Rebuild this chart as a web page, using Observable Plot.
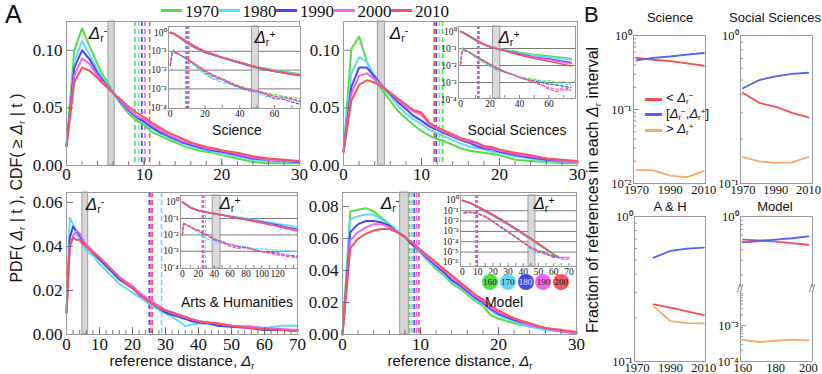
<!DOCTYPE html>
<html><head><meta charset="utf-8">
<script src="https://cdn.jsdelivr.net/npm/d3@7"></script>
<script src="https://cdn.jsdelivr.net/npm/@observablehq/plot@0.6"></script>
<style>
body{margin:0;background:#fff;}
#root{position:relative;width:822px;height:374px;overflow:hidden;background:#fff;font-family:"Liberation Sans",Arial,sans-serif;color:#111;}
#root svg text{font-family:"Liberation Serif","Times New Roman",serif;}
.lbl{position:absolute;white-space:nowrap;line-height:1;}
.lbl sub{font-size:0.62em;vertical-align:-0.25em;}
.lbl sup{font-size:0.62em;vertical-align:0.55em;}
.serif{font-family:"Liberation Serif","Times New Roman",serif;}
</style>
</head><body><div id="root"></div><script>
// ---------------- DATA ----------------
const years = ["1970","1980","1990","2000","2010"];
const yearColors = ["#52de46","#64d8f8","#4a46ee","#f262f2","#f4545e"];
const modelKeys = ["160","170","180","190","200"];

// Science main PDF
const sciX = [0,1,2,3,4,5,6,7,8,9,10,11,12,13,14,15,16,17,18,19,20,22,24,26,28,30];
const sci1970 = [0.017,0.100,0.119,0.103,0.088,0.075,0.064,0.053,0.045,0.039,0.035,0.029,0.026,0.023,0.020,0.017,0.015,0.013,0.012,0.011,0.009,0.006,0.003,0.002,0.002,0.002];
const sci1980 = [0.017,0.090,0.108,0.096,0.083,0.072,0.063,0.054,0.047,0.041,0.037,0.032,0.028,0.025,0.022,0.019,0.017,0.015,0.013,0.012,0.011,0.008,0.005,0.004,0.003,0.003];
const sci1990 = [0.017,0.085,0.100,0.092,0.080,0.071,0.063,0.055,0.048,0.042,0.038,0.033,0.029,0.026,0.023,0.020,0.018,0.016,0.014,0.013,0.012,0.009,0.006,0.005,0.004,0.003];
const sci2000 = [0.017,0.078,0.093,0.088,0.078,0.070,0.063,0.056,0.049,0.043,0.040,0.035,0.031,0.027,0.024,0.021,0.019,0.017,0.015,0.014,0.013,0.010,0.007,0.005,0.004,0.004];
const sci2010 = [0.017,0.072,0.085,0.082,0.076,0.069,0.063,0.057,0.051,0.046,0.042,0.037,0.033,0.029,0.026,0.023,0.020,0.018,0.016,0.015,0.013,0.011,0.008,0.006,0.005,0.004];
const sciMean = [8.8,9.3,9.7,10.1,10.7];
const sciBand = [5.4,6.2];

// Social Sciences main PDF
const ssX = sciX;
const ss1970 = [0.012,0.101,0.112,0.090,0.075,0.065,0.056,0.047,0.041,0.035,0.030,0.026,0.023,0.021,0.018,0.015,0.013,0.012,0.011,0.010,0.009,0.005,0.004,0.003,0.002,0.002];
const ss1980 = [0.012,0.080,0.094,0.090,0.078,0.068,0.060,0.052,0.045,0.040,0.036,0.031,0.028,0.025,0.022,0.019,0.017,0.015,0.014,0.012,0.011,0.008,0.006,0.004,0.003,0.003];
const ss1990 = [0.012,0.068,0.085,0.085,0.077,0.069,0.062,0.055,0.049,0.043,0.039,0.034,0.031,0.028,0.025,0.022,0.020,0.017,0.015,0.014,0.012,0.009,0.007,0.005,0.004,0.003];
const ss2000 = [0.012,0.062,0.078,0.080,0.075,0.069,0.063,0.057,0.051,0.047,0.044,0.036,0.032,0.029,0.026,0.023,0.021,0.019,0.016,0.015,0.013,0.010,0.008,0.006,0.004,0.003];
const ss2010 = [0.012,0.056,0.070,0.074,0.072,0.068,0.063,0.058,0.053,0.048,0.046,0.037,0.033,0.030,0.027,0.024,0.022,0.020,0.017,0.016,0.014,0.011,0.009,0.006,0.005,0.004];
const ssMean = [12.7,12.3,11.9,11.6,11.7];
const ssBand = [4.4,5.3];

// Arts & Humanities main PDF (no 1970)
const ahX = [0,1,2,3,4,5,6,8,10,12,14,16,18,20,22,24,26,28,30,32,34,36,38,40,43,46,50,55,60,65,70];
const ah1980 = [0.010,0.053,0.050,0.046,0.043,0.040,0.038,0.036,0.032,0.029,0.026,0.023,0.021,0.019,0.017,0.015,0.013,0.011,0.0095,0.008,0.006,0.0038,0.0045,0.005,0.005,0.004,0.0035,0.004,0.003,0.004,0.004];
const ah1990 = [0.010,0.044,0.049,0.047,0.045,0.042,0.040,0.037,0.034,0.031,0.028,0.025,0.023,0.021,0.019,0.016,0.014,0.012,0.010,0.009,0.008,0.007,0.006,0.0055,0.005,0.004,0.0035,0.003,0.002,0.002,0.002];
const ah2000 = [0.010,0.040,0.045,0.047,0.046,0.043,0.041,0.038,0.035,0.032,0.029,0.026,0.024,0.022,0.019,0.017,0.015,0.013,0.011,0.010,0.009,0.008,0.007,0.006,0.0055,0.005,0.004,0.0035,0.003,0.0025,0.002];
const ah2010 = [0.010,0.040,0.044,0.043,0.043,0.041,0.040,0.037,0.035,0.032,0.029,0.026,0.023,0.021,0.018,0.016,0.014,0.012,0.011,0.010,0.009,0.008,0.007,0.006,0.0055,0.005,0.004,0.003,0.0025,0.002,0.0015];
const ahMean = [28.8,25.1,25.6,26.0];
const ahBand = [4.8,6.6];

// Model main PDF
const mX = sciX;
const m160 = [0,0.077,0.078,0.079,0.077,0.073,0.069,0.065,0.061,0.056,0.051,0.046,0.041,0.037,0.032,0.029,0.025,0.021,0.018,0.012,0.010,0.007,0.005,0.003,0.002,0.001];
const m170 = [0,0.072,0.074,0.075,0.075,0.072,0.068,0.065,0.061,0.056,0.051,0.046,0.042,0.038,0.033,0.030,0.026,0.022,0.019,0.015,0.012,0.008,0.005,0.003,0.002,0.001];
const m180 = [0,0.064,0.069,0.071,0.071,0.070,0.068,0.064,0.061,0.056,0.052,0.047,0.043,0.039,0.034,0.031,0.027,0.023,0.020,0.016,0.013,0.009,0.006,0.004,0.002,0.001];
const m190 = [0,0.059,0.064,0.067,0.069,0.069,0.067,0.064,0.061,0.057,0.052,0.048,0.044,0.040,0.036,0.032,0.028,0.024,0.021,0.017,0.014,0.010,0.006,0.004,0.002,0.001];
const m200 = [0,0.054,0.060,0.063,0.065,0.066,0.066,0.064,0.061,0.057,0.053,0.049,0.045,0.041,0.037,0.033,0.029,0.025,0.022,0.018,0.015,0.010,0.007,0.004,0.003,0.0015];
const mMean = [8.6,8.9,9.2,9.5,9.8];
const mBand = [7.4,8.5];

// Insets: CDF (solid) and PDF (dashed), log scale
const sciCdfX = [0,2,5,10,15,20,30,40,50,60,75];
const sciCdf1970 = [1,0.86,0.55,0.26,0.14,0.085,0.045,0.026,0.015,0.010,0.0062];
const sciCdf1980 = [1,0.87,0.57,0.27,0.145,0.088,0.045,0.025,0.014,0.0092,0.0056];
const sciCdf1990 = [1,0.88,0.58,0.28,0.15,0.09,0.045,0.024,0.013,0.0085,0.005];
const sciCdf2000 = [1,0.89,0.60,0.30,0.16,0.095,0.047,0.025,0.0135,0.0088,0.0052];
const sciCdf2010 = [1,0.90,0.62,0.32,0.17,0.10,0.049,0.026,0.014,0.009,0.0052];
const sciPdfX = [0,1,2,5,10,15,20,25,30,35,40,45,50,55,60,65,70,75];
const sciPdf1970 = [0.017,0.10,0.119,0.075,0.032,0.015,0.006,0.0032,0.0035,0.002,0.0012,0.0009,0.0008,0.0006,0.0005,0.0004,0.00035,0.0003];
const sciPdf1980 = [0.017,0.09,0.108,0.072,0.034,0.017,0.007,0.0035,0.0022,0.0018,0.0009,0.001,0.0006,0.0004,0.00035,0.0004,0.00025,0.0002];
const sciPdf1990 = [0.017,0.085,0.10,0.071,0.036,0.018,0.008,0.0045,0.003,0.0018,0.0012,0.0008,0.0007,0.0005,0.0003,0.00028,0.0002,0.00015];
const sciPdf2000 = [0.017,0.078,0.093,0.070,0.038,0.019,0.009,0.005,0.0032,0.002,0.0013,0.0009,0.0007,0.0005,0.0004,0.0003,0.00028,0.0002];
const sciPdf2010 = [0.017,0.072,0.085,0.069,0.040,0.020,0.0095,0.0055,0.0035,0.0021,0.0014,0.001,0.0008,0.0006,0.0004,0.00035,0.0003,0.00022];
const sciPlus = [47,51];

const ssCdfX = [0,2,5,10,15,20,25,30,40,50,60,75];
const ssCdf1970 = [1,0.82,0.55,0.30,0.18,0.13,0.10,0.085,0.060,0.045,0.036,0.026];
const ssCdf1980 = [1,0.84,0.57,0.31,0.18,0.125,0.098,0.080,0.055,0.040,0.031,0.022];
const ssCdf1990 = [1,0.85,0.58,0.32,0.19,0.125,0.095,0.075,0.048,0.032,0.024,0.015];
const ssCdf2000 = [1,0.86,0.60,0.33,0.19,0.125,0.095,0.073,0.045,0.030,0.022,0.013];
const ssCdf2010 = [1,0.87,0.62,0.34,0.20,0.13,0.095,0.070,0.042,0.026,0.018,0.0095];
const ssPdfX = [0,1,2,5,10,15,20,25,30,35,40,45,50,55,60,65,70,75];
const ssPdf1970 = [0.012,0.10,0.11,0.065,0.03,0.016,0.009,0.005,0.004,0.003,0.0022,0.0018,0.0016,0.0012,0.0013,0.001,0.0011,0.0009];
const ssPdf1980 = [0.012,0.08,0.095,0.068,0.033,0.018,0.01,0.006,0.004,0.003,0.002,0.0016,0.0014,0.0011,0.0009,0.0008,0.0008,0.0007];
const ssPdf1990 = [0.012,0.07,0.085,0.068,0.035,0.02,0.011,0.0065,0.0042,0.003,0.002,0.0015,0.0012,0.001,0.0008,0.0007,0.0006,0.0005];
const ssPdf2000 = [0.012,0.065,0.08,0.068,0.037,0.021,0.012,0.007,0.0045,0.003,0.002,0.0015,0.0011,0.0008,0.0005,0.0004,0.0005,0.0004];
const ssPdf2010 = [0.012,0.058,0.072,0.066,0.038,0.022,0.012,0.007,0.0045,0.003,0.002,0.0014,0.001,0.0007,0.0004,0.0003,0.0004,0.00035];
const ssPlus = [22,27];

const ahCdfX = [0,10,20,30,40,50,60,70,80,90,100,110,120,130,145];
const ahCdf1980 = [1,0.48,0.32,0.25,0.21,0.17,0.14,0.12,0.10,0.085,0.07,0.058,0.048,0.04,0.03];
const ahCdf1990 = [1,0.45,0.30,0.24,0.20,0.16,0.13,0.11,0.09,0.075,0.06,0.05,0.04,0.03,0.022];
const ahCdf2000 = [1,0.45,0.30,0.24,0.20,0.16,0.13,0.105,0.085,0.07,0.055,0.045,0.035,0.027,0.019];
const ahCdf2010 = [1,0.45,0.30,0.24,0.195,0.155,0.125,0.10,0.082,0.066,0.052,0.042,0.033,0.025,0.017];
const ahPdfX = [0,1,3,6,10,15,20,25,30,40,50,60,70,80,90,100,110,120,130,145];
const ahPdf1980 = [0.01,0.053,0.046,0.035,0.028,0.02,0.012,0.008,0.006,0.004,0.003,0.0028,0.0022,0.0019,0.0015,0.0014,0.0013,0.0012,0.0011,0.001];
const ahPdf1990 = [0.01,0.044,0.048,0.038,0.031,0.022,0.018,0.012,0.01,0.005,0.004,0.0025,0.002,0.0017,0.0013,0.001,0.0009,0.0008,0.0006,0.0005];
const ahPdf2000 = [0.01,0.04,0.046,0.039,0.032,0.023,0.019,0.013,0.011,0.0055,0.0035,0.0025,0.0018,0.0016,0.0012,0.001,0.0008,0.0007,0.0006,0.00045];
const ahPdf2010 = [0.01,0.04,0.044,0.038,0.032,0.024,0.02,0.013,0.011,0.006,0.0035,0.002,0.0015,0.0018,0.0013,0.0009,0.0008,0.0006,0.0005,0.0004];
const ahPlus = [38,48];

const mCdfX = [0,5,10,15,20,25,30,35,40,45,50,55,60,63,70];
const mCdf160 = [1,0.55,0.22,0.085,0.033,0.012,0.0045,0.0016,0.0005,0.00017,0.00005,0.000018,0.000006,0.000004,null];
const mCdf170 = [1,0.56,0.23,0.09,0.035,0.013,0.0048,0.0017,0.00055,0.00018,0.000055,0.00002,0.000006,0.000003,null];
const mCdf180 = [1,0.57,0.24,0.095,0.037,0.014,0.005,0.0018,0.0006,0.0002,0.00006,0.00002,0.000006,0.000003,null];
const mCdf190 = [1,0.58,0.25,0.10,0.039,0.015,0.0053,0.0019,0.00063,0.0002,0.00006,0.00002,0.000005,0.000003,0.000003];
const mCdf200 = [1,0.60,0.26,0.105,0.041,0.016,0.0056,0.002,0.00065,0.00021,0.000065,0.00002,0.000006,0.000003,null];
const mPdfX = [0,1,2,3,5,8,10,15,20,25,30,35,40,45,48,50,52,55,58,60,63,66,70];
const mPdf160 = [null,0.075,0.078,0.079,0.073,0.06,0.05,0.025,0.008,0.0025,0.0008,0.00025,0.00008,0.000025,0.000018,0.000012,0.000015,0.000008,0.00001,0.000005,0.000004,null,null];
const mPdf170 = [null,0.072,0.074,0.075,0.072,0.06,0.05,0.026,0.0085,0.0027,0.00085,0.00026,0.00008,0.00002,0.000012,0.000015,0.000008,0.000006,0.000005,0.000004,0.000003,null,null];
const mPdf180 = [null,0.064,0.069,0.071,0.07,0.06,0.051,0.027,0.009,0.0028,0.0009,0.00028,0.000085,0.000025,0.000015,0.00001,0.000012,0.000007,0.000005,0.000004,0.000003,null,null];
const mPdf190 = [null,0.059,0.064,0.067,0.069,0.061,0.052,0.028,0.0095,0.003,0.00095,0.0003,0.00009,0.000028,0.000016,0.000012,0.000008,0.000006,0.000004,0.000003,0.000003,0.000003,0.000003];
const mPdf200 = [null,0.054,0.06,0.063,0.066,0.061,0.053,0.029,0.01,0.0032,0.001,0.00031,0.00009,0.00003,0.00002,0.000012,0.000009,0.000007,0.000004,0.000003,0.000003,0.000002,0.000002];
const mPlus = [43.4,48];

// Panel B: fraction of references in each interval
const bYears = [1970,1980,1990,2000,2010];
const bSciLower = [0.50,0.47,0.45,0.42,0.39];
const bSciMid = [0.46,0.50,0.52,0.55,0.58];
const bSciUpper = [0.0153,0.015,0.0128,0.0122,0.0147];
const bSsLower = [0.41,0.35,0.33,0.30,0.28];
const bSsMid = [0.44,0.50,0.53,0.55,0.56];
const bSsUpper = [0.151,0.141,0.138,0.139,0.151];
const bAhYears = [1980,1990,2000,2010];
const bAhLower = [0.248,0.235,0.222,0.209];
const bAhMid = [0.52,0.58,0.60,0.61];
const bAhUpper = [0.24,0.19,0.184,0.183];
const bModelT = [160,170,180,190,200];
const bModelLower = [0.53,0.52,0.50,0.48,0.46];
const bModelMid = [0.49,0.51,0.53,0.55,0.58];
const bModelUpper = [0.0004,0.00035,0.00038,0.00041,0.00039];
const intervalKeys = ["lower","mid","upper"];
const intervalColors = ["#f24f50","#5262f0","#f8a963"];

// ---------------- HELPERS ----------------
const root = document.getElementById("root");
function place(el, left, top){ el.style.position="absolute"; el.style.left=left+"px"; el.style.top=top+"px"; root.appendChild(el); }
function table(xs, keys, cols){
  const out=[];
  keys.forEach((k,i)=>xs.forEach((x,j)=>{ const v=cols[i][j]; out.push({x, y:(v==null?NaN:v), k}); }));
  return out;
}
const supMap={"-":"⁻","0":"⁰","1":"¹","2":"²","3":"³","4":"⁴","5":"⁵","6":"⁶","7":"⁷"};
const pow10 = d => "10" + String(Math.round(Math.log10(d))).split("").map(c=>supMap[c]).join("");
function label(html, x, y, css={}, tf="translate(-50%,-50%)"){
  const d=document.createElement("div"); d.className="lbl"; d.innerHTML=html;
  d.style.left=x+"px"; d.style.top=y+"px"; d.style.transform=tf;
  Object.assign(d.style, css); root.appendChild(d); return d;
}
const dr = s => `<i>Δ</i><sub>r</sub>` + (s ? `<sup>${s}</sup>` : "");

function mainPanel(p){
  const m={l:46,r:8,t:4,b:26};
  const svg = Plot.plot({
    width:p.w+m.l+m.r, height:p.h+m.t+m.b,
    marginLeft:m.l, marginRight:m.r, marginTop:m.t, marginBottom:m.b,
    style:{background:"transparent", fontFamily:"'Liberation Serif', serif", fontSize:"17px", color:"#111", overflow:"visible"},
    x:{domain:p.xd, ticks:p.xt, tickSize:0, tickPadding:p.tp, tickFormat:d=>String(d), label:null},
    y:{domain:p.yd, ticks:p.yt, tickSize:0, tickPadding:4, tickFormat:d3.format(".2f"), label:null},
    color:{type:"ordinal", domain:p.keys, range:p.colors},
    marks:[
      Plot.rect([p.band], {x1:d=>d[0], x2:d=>d[1], fill:"#d6d6d6", stroke:"#8a8a8a", strokeWidth:0.8}),
      Plot.ruleX(p.keys.map((k,i)=>({k, v:p.means[i]})), {x:"v", stroke:"k", strokeDasharray:"5,3", strokeWidth:1.6}),
      Plot.line(p.data, {x:"x", y:"y", stroke:"k", strokeWidth:2}),
      Plot.tickX(p.xminor, {x:d=>d, insetTop:p.h-4, stroke:"#555", strokeWidth:0.8}),
      Plot.tickX(p.xt, {x:d=>d, insetTop:p.h-7, stroke:"#555", strokeWidth:0.8}),
      Plot.tickY(p.yt, {y:d=>d, insetRight:p.w-7, stroke:"#555", strokeWidth:0.8}),
      Plot.frame({stroke:"#9a9a9a"})
    ]
  });
  place(svg, p.l-m.l, p.t-m.t);
}

function inset(p){
  const m={l:24,r:1,t:1,b:13};
  const svg = Plot.plot({
    width:p.w+m.l+m.r, height:p.h+m.t+m.b,
    marginLeft:m.l, marginRight:m.r, marginTop:m.t, marginBottom:m.b,
    style:{background:"transparent", fontFamily:"'Liberation Serif', serif", fontSize:"9.5px", color:"#111", overflow:"visible"},
    x:{domain:p.xd, ticks:p.xt, tickSize:0, tickPadding:2, tickFormat:d=>String(d), label:null},
    y:{type:"log", domain:p.yd, ticks:p.yt, tickSize:0, tickPadding:2, tickFormat:pow10, label:null},
    color:{type:"ordinal", domain:p.keys, range:p.colors},
    marks:[
      Plot.frame({fill:"white", stroke:"none"}),
      Plot.ruleY(p.grid, {stroke:"#7a7a7a", strokeWidth:1}),
      Plot.rect([p.band], {x1:d=>d[0], x2:d=>d[1], fill:"#d6d6d6", fillOpacity:0.9, stroke:"#8a8a8a", strokeWidth:0.8}),
      Plot.ruleX(p.keys.map((k,i)=>({k, v:p.means[i]})), {x:"v", stroke:"k", strokeDasharray:"3,2", strokeWidth:1.3}),
      Plot.line(p.cdf, {x:"x", y:"y", stroke:"k", strokeWidth:1.5}),
      Plot.line(p.pdf, {x:"x", y:"y", stroke:"k", strokeWidth:1.1, strokeDasharray:"3,2"}),
      Plot.tickX(p.xminor, {x:d=>d, insetTop:p.h-3, stroke:"#555", strokeWidth:0.7}),
      Plot.frame({stroke:"#9a9a9a"})
    ]
  });
  place(svg, p.l-m.l, p.t-m.t);
}

function minorLog(lo, hi){
  const out=[];
  for(let e=Math.floor(Math.log10(lo)); e<=Math.ceil(Math.log10(hi)); e++)
    for(let k=2;k<=9;k++){ const v=k*Math.pow(10,e); if(v>lo && v<hi) out.push(v); }
  return out;
}
function bPanel(p){
  const m={l:28,r:2,t:4,b:p.noX?2:13};
  const marks=[
    Plot.tickY(minorLog(p.yd[0],p.yd[1]), {y:d=>d, insetRight:p.w-3, stroke:"#666", strokeWidth:0.7}),
    Plot.tickY(p.yt, {y:d=>d, insetRight:p.w-6, stroke:"#666", strokeWidth:0.7}),
    Plot.line(p.data, {x:"x", y:"y", stroke:"k", strokeWidth:1.8})
  ];
  if(p.noBottom){
    marks.push(Plot.ruleX([p.xd[0],p.xd[1]], {stroke:"#9a9a9a"}));
    marks.push(Plot.ruleY([p.yd[1]], {stroke:"#9a9a9a"}));
  } else if(p.noTop){
    marks.push(Plot.ruleX([p.xd[0],p.xd[1]], {stroke:"#9a9a9a"}));
    marks.push(Plot.ruleY([p.yd[0]], {stroke:"#9a9a9a"}));
  } else marks.push(Plot.frame({stroke:"#9a9a9a"}));
  const svg = Plot.plot({
    width:p.w+m.l+m.r, height:p.h+m.t+m.b,
    marginLeft:m.l, marginRight:m.r, marginTop:m.t, marginBottom:m.b,
    style:{background:"transparent", fontFamily:"'Liberation Serif', serif", fontSize:"12.5px", color:"#111", overflow:"visible"},
    x:{domain:p.xd, ticks:p.noX?[]:p.xt, tickSize:0, tickPadding:2, tickFormat:d=>String(d), label:null, axis:p.noX?null:"bottom"},
    y:{type:"log", domain:p.yd, ticks:p.yt, tickSize:0, tickPadding:2, tickFormat:pow10, label:null},
    color:{type:"ordinal", domain:intervalKeys, range:intervalColors},
    marks
  });
  place(svg, p.l-m.l, p.t-m.t);
}

// ---------------- PANEL A ----------------
const c5 = yearColors, c4 = yearColors.slice(1), k4 = years.slice(1);
mainPanel({l:66,t:21,w:233,h:144, xd:[0,30], yd:[0,0.125], xt:[0,10,20,30], yt:[0,0.05,0.1], tp:2,
  xminor:d3.range(2,30,2), keys:years, colors:c5, means:sciMean, band:sciBand,
  data:table(sciX, years, [sci1970,sci1980,sci1990,sci2000,sci2010])});
mainPanel({l:343,t:21,w:234,h:144, xd:[0,30], yd:[0,0.125], xt:[0,10,20,30], yt:[0,0.05,0.1], tp:2,
  xminor:d3.range(2,30,2), keys:years, colors:c5, means:ssMean, band:ssBand,
  data:table(ssX, years, [ss1970,ss1980,ss1990,ss2000,ss2010])});
mainPanel({l:66,t:192,w:231,h:142, xd:[0,70], yd:[0,0.0645], xt:[0,10,20,30,40,50,60,70], yt:[0,0.02,0.04,0.06], tp:3,
  xminor:d3.range(2,70,2), keys:k4, colors:c4, means:ahMean, band:ahBand,
  data:table(ahX, k4, [ah1980,ah1990,ah2000,ah2010])});
mainPanel({l:342,t:192,w:234,h:142, xd:[0,30], yd:[0,0.0888], xt:[0,10,20,30], yt:[0,0.02,0.04,0.06,0.08], tp:3,
  xminor:d3.range(2,30,2), keys:modelKeys, colors:c5, means:mMean, band:mBand,
  data:table(mX, modelKeys, [m160,m170,m180,m190,m200])});

inset({l:168,t:26,w:132,h:82, xd:[-1,75], yd:[9e-5,2.1], xt:[0,20,40,60], yt:[1,0.1,0.01,0.001,0.0001],
  grid:[0.1,0.01,0.001], xminor:d3.range(10,75,10), keys:years, colors:c5, means:sciMean, band:sciPlus,
  cdf:table(sciCdfX, years, [sciCdf1970,sciCdf1980,sciCdf1990,sciCdf2000,sciCdf2010]),
  pdf:table(sciPdfX, years, [sciPdf1970,sciPdf1980,sciPdf1990,sciPdf2000,sciPdf2010])});
inset({l:458,t:26,w:117,h:72, xd:[-1.4,78], yd:[1.15e-4,1.97], xt:[0,20,40,60], yt:[1,0.1,0.01,0.001,0.0001],
  grid:[0.1,0.01,0.001], xminor:d3.range(10,78,10), keys:years, colors:c5, means:ssMean, band:ssPlus,
  cdf:table(ssCdfX, years, [ssCdf1970,ssCdf1980,ssCdf1990,ssCdf2000,ssCdf2010]),
  pdf:table(ssPdfX, years, [ssPdf1970,ssPdf1980,ssPdf1990,ssPdf2000,ssPdf2010])});
inset({l:180,t:195,w:117,h:73, xd:[-2.5,145], yd:[9e-5,2.5], xt:[0,20,40,60,80,100,120], yt:[1,0.1,0.01,0.001,0.0001],
  grid:[0.1,0.01,0.001], xminor:d3.range(10,145,10), keys:k4, colors:c4, means:ahMean, band:ahPlus,
  cdf:table(ahCdfX, k4, [ahCdf1980,ahCdf1990,ahCdf2000,ahCdf2010]),
  pdf:table(ahPdfX, k4, [ahPdf1980,ahPdf1990,ahPdf2000,ahPdf2010])});
inset({l:460,t:195,w:116,h:71, xd:[-1.3,75], yd:[4e-7,3], xt:[0,10,20,30,40,50,60,70], yt:[1,0.1,0.01,0.001,1e-4,1e-5,1e-6],
  grid:[0.1,0.01,0.001,1e-4,1e-5], xminor:d3.range(5,75,5), keys:modelKeys, colors:c5, means:mMean, band:mPlus,
  cdf:table(mCdfX, modelKeys, [mCdf160,mCdf170,mCdf180,mCdf190,mCdf200]),
  pdf:table(mPdfX, modelKeys, [mPdf160,mPdf170,mPdf180,mPdf190,mPdf200])});

// ---------------- PANEL B ----------------
bPanel({l:633,t:35,w:72,h:148, xd:[1968.2,2011], xt:[1970,1990,2010], yd:[0.01,1], yt:[1,0.1,0.01],
  data:table(bYears, intervalKeys, [bSciLower,bSciMid,bSciUpper])});
bPanel({l:740,t:35,w:72,h:148, xd:[1968.5,2012.5], xt:[1970,1990,2010], yd:[0.1,1], yt:[1,0.1],
  data:table(bYears, intervalKeys, [bSsLower,bSsMid,bSsUpper])});
bPanel({l:634,t:216,w:71,h:145, xd:[1968.5,2011], xt:[1970,1990,2010], yd:[0.1,1], yt:[1,0.1],
  data:table(bAhYears, intervalKeys, [bAhLower,bAhMid,bAhUpper])});
bPanel({l:740,t:216,w:72,h:71, xd:[158.5,202.5], xt:[160,180,200], yd:[0.142,1], yt:[1], noX:true, noBottom:true,
  data:table(bModelT, intervalKeys.slice(0,2), [bModelLower,bModelMid])});
bPanel({l:740,t:291,w:72,h:70, xd:[158.5,202.5], xt:[160,180,200], yd:[1e-4,0.009], yt:[0.001,1e-4], noTop:true,
  data:table(bModelT, ["upper"], [bModelUpper])});

// ---------------- TEXT ----------------
label("A", 5, 2, {fontSize:"25px"}, "none");
label("B", 584, 4, {fontSize:"22px"}, "none");
// top legend
years.forEach((y,i)=>{
  const x0 = 161 + i*57.5;
  const ln=document.createElement("div"); ln.style.cssText=`position:absolute;left:${x0}px;top:9px;width:21px;height:3px;background:${yearColors[i]}`;
  root.appendChild(ln);
  label(y, x0+24, 11, {fontSize:"17px"}, "translate(0,-50%)").classList.add("serif");
});
label("PDF( "+dr("")+" | t ), CDF( ≥ "+dr("")+" | t )", 18, 188, {fontSize:"16px"}, "translate(-50%,-50%) rotate(-90deg)");
label("reference distance, "+dr(""), 182, 362, {fontSize:"15px"});
label("reference distance, "+dr(""), 460, 362, {fontSize:"15px"});
label(dr("-"), 98, 34, {fontSize:"17px"});
label(dr("-"), 399, 34, {fontSize:"17px"});
label(dr("-"), 95, 205, {fontSize:"17px"});
label(dr("-"), 390, 204, {fontSize:"17px"});
label(dr("+"), 265, 38, {fontSize:"17px"});
label(dr("+"), 509, 38, {fontSize:"17px"});
label(dr("+"), 230, 204, {fontSize:"17px"});
label(dr("+"), 544, 204, {fontSize:"17px"});
label("Science", 237, 130, {fontSize:"14px"});
label("Social Sciences", 517, 130, {fontSize:"14px"});
label("Arts &amp; Humanities", 237, 302, {fontSize:"14px"});
label("Model", 504, 302, {fontSize:"14px"});
// model legend circles
modelKeys.forEach((k,i)=>{
  const cx = 490 + i*17.8, cy = 282;
  const c=document.createElement("div");
  c.style.cssText=`position:absolute;left:${cx-8}px;top:${cy-8}px;width:16px;height:16px;border-radius:50%;background:${yearColors[i]};`;
  root.appendChild(c);
  label(k, cx, cy, {fontSize:"9px", color: i===2 ? "#e8e8ff" : "#222"}).classList.add("serif");
});
// B labels
label("Science", 670, 17, {fontSize:"13px"});
label("Social Sciences", 775, 17, {fontSize:"13px"});
label("A &amp; H", 670, 206, {fontSize:"13px"});
label("Model", 775, 206, {fontSize:"13px"});
label("Fraction of references in each "+dr("")+" interval", 594, 190, {fontSize:"16px"}, "translate(-50%,-50%) rotate(-90deg)");
const bLeg = ["&lt; "+dr("−"), "["+dr("−")+","+dr("+")+"]", "&gt; "+dr("+")];
bLeg.forEach((t,i)=>{
  const y = 99 + i*15.5;
  const ln=document.createElement("div"); ln.style.cssText=`position:absolute;left:645px;top:${y-1.5}px;width:17px;height:3px;background:${intervalColors[i]}`;
  root.appendChild(ln);
  label(t, 666, y, {fontSize:"13px"}, "translate(0,-50%)");
});
label("//", 740, 288, {fontSize:"11px", color:"#777"});
label("//", 812, 288, {fontSize:"11px", color:"#777"});
</script></body></html>
